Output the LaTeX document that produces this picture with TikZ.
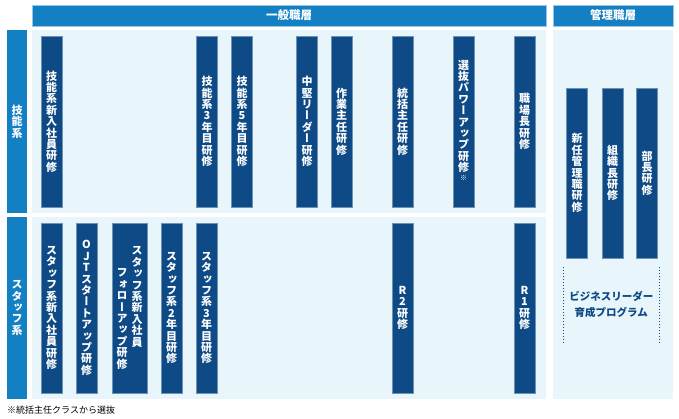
\documentclass[tikz,border=0pt]{standalone}
\usepackage{fontspec}
\setmainfont{Noto Sans CJK JP}
\newfontfamily\tatefont{Noto Sans CJK JP}[RawFeature=+vert]
\usetikzlibrary{positioning}

\definecolor{kouBlue}{HTML}{1480C4}
\definecolor{kouNavy}{HTML}{0D4A86}
\definecolor{kouPale}{HTML}{E8F6FC}

% one character per line, for the upright columns
\ExplSyntaxOn
\NewDocumentCommand\tate{O{11.4pt}m}
  {
    \vbox:n
      {
        \dim_set:Nn \baselineskip {#1}
        \dim_set:Nn \lineskiplimit {-\c_max_dim}
        \tl_map_inline:nn {#2} { \hbox_to_wd:nn {1em} { \hss ##1 \hss } }
      }
  }
\ExplSyntaxOff

\begin{document}
\begin{tikzpicture}[x=1pt, y=-1pt,
    head/.style={fill=kouBlue, draw=kouBlue!45!white, line width=0.8pt, text=white,
                 font=\bfseries\fontsize{11.5}{13}\selectfont, inner sep=0pt, minimum height=21pt},
    side/.style={fill=kouBlue, text=white, font=\tatefont\bfseries\fontsize{11}{13}\selectfont,
                 inner sep=0pt, minimum width=20pt},
    pane/.style={fill=kouPale, inner sep=0pt},
    bar/.style={fill=kouNavy, draw=kouNavy!60!white, line width=0.5pt, text=white,
                font=\tatefont\bfseries\fontsize{11}{13}\selectfont, inner sep=0pt,
                minimum width=21pt, minimum height=171pt}]
	\useasboundingbox (0,0) rectangle (679,419);

	\node[head, minimum width=514pt] (ippan) at (289,15.5) {一般職層};
	\node[head, minimum width=120pt] (kanri) at (613,15.5) {管理職層};

	\node[pane, minimum width=514pt, minimum height=183pt] (ginoPane) at (289,121.5) {};
	\node[pane, minimum width=514pt, minimum height=182pt] (staffPane) at (289,308) {};
	\node[pane, minimum width=120pt, minimum height=369pt] (kanriPane) at (613,214.5) {};

	\node[side, minimum height=183pt] (gino) at (17,121.5) {\tate{技能系}};
	\node[side, minimum height=182pt] (staff) at (17,308) {\tate{スタッフ系}};

	% 技能系
	\node[bar] (ginoNew) at (51.5,121.5) {\tate{技能系新入社員研修}};
	\node[bar] (gino3) at (207,121.5) {\tate{技能系3年目研修}};
	\node[bar] (gino5) at (242,121.5) {\tate{技能系5年目研修}};
	\node[bar] (chuken) at (307,121.5) {\tate{中堅リーダー研修}};
	\node[bar] (sagyo) at (341.5,121.5) {\tate{作業主任研修}};
	\node[bar] (tokatsu) at (402.5,121.5) {\tate{統括主任研修}};
	\node[bar] (senbatsu) at (463.5,121.5) {\tate{選抜パワーアップ研修{\raisebox{3pt}{\scriptsize ※}}}};
	\node[bar] (shokuba) at (524.5,121.5) {\tate{職場長研修}};

	% スタッフ系
	\node[bar, minimum height=170pt] (staffNew) at (51.5,308) {\tate{スタッフ系新入社員研修}};
	\node[bar, minimum height=170pt] (ojt) at (86.5,308) {\tate{OJTスタートアップ研修}};
	\node[bar, minimum height=170pt, minimum width=35pt] (follow) at (129.5,308)
		{\tate{フォローアップ研修}\hspace{4pt}\raisebox{22pt}{\tate{スタッフ系新入社員}}};
	\node[bar, minimum height=170pt] (staff2) at (171.5,308) {\tate{スタッフ系2年目研修}};
	\node[bar, minimum height=170pt] (staff3) at (206.5,308) {\tate{スタッフ系3年目研修}};
	\node[bar, minimum height=170pt] (rTwo) at (402.5,308) {\tate{R2研修}};
	\node[bar, minimum height=170pt] (rOne) at (524.5,308) {\tate{R1研修}};

	% 管理職層
	\node[bar, minimum height=170pt] (shinnin) at (577,173) {\tate{新任管理職研修}};
	\node[bar, minimum height=170pt] (soshiki) at (612.5,173) {\tate{組織長研修}};
	\node[bar, minimum height=170pt] (bucho) at (647,173) {\tate{部長研修}};

	\node[font=\bfseries\fontsize{10.5}{16}\selectfont, text=kouNavy, align=center,
	      minimum width=95.5pt, minimum height=75pt, inner sep=0pt] (bizLeader) at (611.25,304.5)
		{ビジネスリーダー\\育成プログラム};
	\draw[kouNavy, line width=0.9pt, dash pattern=on 1pt off 2pt] (bizLeader.north west) -- (bizLeader.south west);
	\draw[kouNavy, line width=0.9pt, dash pattern=on 1pt off 2pt] (bizLeader.north east) -- (bizLeader.south east);

	\node[anchor=west, font=\fontsize{9}{11}\selectfont, inner sep=0pt] (chuki) at (7,410) {※統括主任クラスから選抜};
\end{tikzpicture}
\end{document}
